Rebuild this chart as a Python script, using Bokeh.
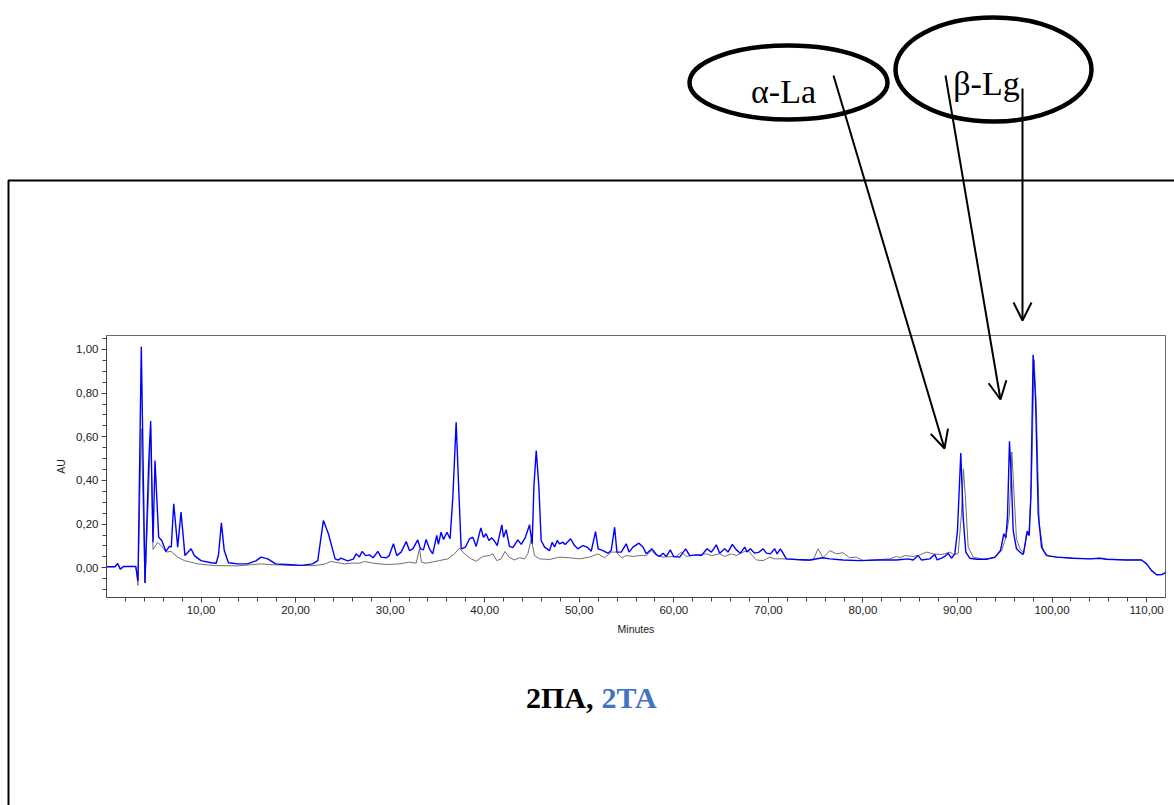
import numpy as np
from bokeh.plotting import figure
from bokeh.models import (Range1d, FixedTicker, CustomJSTickFormatter, LinearAxis, Label,
                          Arrow, OpenHead)
from bokeh.embed import file_html
from bokeh.resources import INLINE

# ---------------- data ----------------
time_2ta = [0.0, 0.9, 1.18, 1.46, 1.8, 3.1, 3.33, 3.68, 4.07, 4.46, 4.67, 4.92, 5.13, 5.52, 5.84,
            6.29, 6.65, 6.85, 7.11, 7.53, 7.88, 8.3, 8.94, 9.29, 9.99, 11.05, 11.6, 11.85, 12.15,
            12.45, 12.89, 13.88, 14.9, 15.8, 16.35, 17.05, 17.9, 19.5, 20.6, 21.8, 22.34, 22.94,
            23.47, 24.18, 24.5, 24.8, 25.5, 26.1, 26.4, 26.75, 27.03, 27.4, 27.8, 28.2, 28.7,
            29.04, 29.6, 29.9, 30.35, 30.7, 31.16, 31.7, 32.04, 32.4, 32.92, 33.2, 33.52, 33.8,
            34.16, 34.5, 34.93, 35.1, 35.39, 35.64, 36.0, 36.34, 36.63, 36.98, 37.26, 37.51,
            37.97, 38.39, 38.74, 39.1, 39.59, 39.87, 40.15, 40.44, 40.75, 41.04, 41.32, 41.81,
            41.99, 42.27, 42.62, 42.98, 43.5, 43.86, 44.28, 44.74, 45.02, 45.2, 45.45, 45.73,
            45.97, 46.33, 46.86, 47.14, 47.39, 47.67, 47.91, 48.27, 48.51, 49.08, 49.5, 49.85,
            50.38, 50.81, 51.27, 51.72, 52.0, 52.5, 53.03, 53.38, 53.74, 53.98, 54.44, 54.97,
            55.26, 55.68, 56.31, 56.74, 57.09, 57.69, 58.15, 58.5, 58.85, 59.21, 59.63, 59.98,
            60.62, 61.25, 61.68, 62.38, 62.91, 63.51, 63.97, 64.5, 64.85, 65.38, 65.73, 66.19,
            66.61, 67.04, 67.5, 67.74, 68.1, 68.55, 69.01, 69.44, 69.79, 70.21, 70.67, 70.92,
            71.27, 71.55, 71.9, 72.96, 74.37, 75.78, 76.49, 77.9, 79.67, 81.43, 83.54, 84.78,
            85.31, 85.84, 86.19, 87.07, 87.6, 87.85, 88.31, 88.66, 89.01, 89.36, 89.72, 90.0,
            90.35, 90.6, 90.88, 91.3, 92.01, 93.07, 93.95, 94.55, 94.9, 95.11, 95.29, 95.5,
            95.71, 95.89, 96.24, 96.6, 96.95, 97.16, 97.37, 97.58, 97.76, 98.0, 98.25, 98.54,
            98.89, 99.42, 100.5, 102.2, 104.0, 105.06, 105.77, 107.88, 109.47, 110.0, 110.53,
            111.06, 111.6, 112.0]
au_2ta = [0.005, 0.005, 0.02, -0.006, 0.006, 0.006, -0.06, 1.013, -0.07, 0.476, 0.672, 0.117, 0.491,
          0.14, 0.125, 0.075, 0.098, 0.095, 0.293, 0.095, 0.255, 0.056, 0.087, 0.056, 0.033, 0.023,
          0.021, 0.06, 0.206, 0.08, 0.023, 0.018, 0.018, 0.032, 0.049, 0.041, 0.018, 0.014, 0.011,
          0.018, 0.033, 0.217, 0.156, 0.041, 0.035, 0.044, 0.032, 0.04, 0.064, 0.05, 0.075, 0.056,
          0.059, 0.046, 0.075, 0.049, 0.046, 0.056, 0.11, 0.056, 0.072, 0.12, 0.079, 0.087, 0.128,
          0.087, 0.082, 0.13, 0.087, 0.064, 0.148, 0.107, 0.163, 0.13, 0.163, 0.133, 0.324, 0.667,
          0.354, 0.087, 0.095, 0.133, 0.14, 0.098, 0.183, 0.14, 0.156, 0.125, 0.137, 0.122, 0.102,
          0.197, 0.14, 0.174, 0.098, 0.092, 0.128, 0.107, 0.137, 0.197, 0.11, 0.37, 0.537, 0.37,
          0.125, 0.095, 0.079, 0.117, 0.095, 0.125, 0.11, 0.117, 0.107, 0.133, 0.102, 0.087, 0.102,
          0.095, 0.076, 0.166, 0.087, 0.079, 0.067, 0.079, 0.186, 0.072, 0.072, 0.11, 0.072, 0.095,
          0.113, 0.095, 0.064, 0.087, 0.061, 0.052, 0.067, 0.052, 0.082, 0.052, 0.049, 0.087, 0.056,
          0.059, 0.056, 0.087, 0.072, 0.105, 0.067, 0.087, 0.072, 0.107, 0.082, 0.067, 0.095, 0.072,
          0.087, 0.067, 0.072, 0.087, 0.067, 0.064, 0.087, 0.064, 0.087, 0.067, 0.041, 0.038, 0.036,
          0.046, 0.041, 0.036, 0.033, 0.036, 0.036, 0.041, 0.036, 0.056, 0.036, 0.041, 0.061, 0.036,
          0.044, 0.052, 0.067, 0.044, 0.064, 0.171, 0.526, 0.232, 0.072, 0.044, 0.039, 0.039, 0.049,
          0.079, 0.156, 0.137, 0.232, 0.58, 0.4, 0.171, 0.087, 0.072, 0.061, 0.11, 0.168, 0.148,
          0.324, 0.976, 0.781, 0.247, 0.095, 0.056, 0.049, 0.044, 0.041, 0.044, 0.039, 0.036, 0.036,
          0.018, -0.013, -0.032, -0.031, -0.022]

time_2pa = [0.0, 0.9, 1.18, 1.46, 1.8, 3.1, 3.33, 3.68, 4.07, 4.46, 4.67, 4.92, 5.41, 5.8, 6.29,
            6.82, 7.5, 8.23, 9.65, 11.4, 13.9, 16.35, 17.6, 19.5, 21.9, 23.0, 23.75, 25.2, 26.0,
            26.75, 27.3, 28.2, 29.6, 30.98, 32.04, 32.75, 33.1, 33.31, 33.8, 35.2, 36.1, 36.8,
            37.33, 37.86, 38.57, 39.1, 39.8, 40.5, 40.86, 41.28, 41.74, 42.16, 42.55, 43.15, 43.68,
            44.21, 44.56, 44.92, 45.27, 45.8, 46.86, 47.91, 48.97, 50.03, 51.09, 51.97, 52.68,
            53.38, 53.92, 54.44, 54.97, 55.68, 56.38, 57.09, 57.62, 58.15, 58.85, 60.26, 60.79,
            61.32, 62.38, 63.44, 63.97, 64.85, 65.38, 66.08, 66.61, 67.32, 67.85, 68.31, 68.73,
            69.44, 70.14, 70.67, 71.55, 72.96, 74.02, 74.73, 75.26, 75.78, 76.49, 77.2, 77.9,
            78.61, 79.31, 80.02, 81.43, 82.84, 83.54, 83.9, 84.43, 85.31, 86.01, 86.72, 87.42,
            88.13, 88.66, 89.19, 89.61, 90.07, 90.42, 90.63, 90.88, 91.13, 91.66, 92.71, 93.95,
            94.66, 95.11, 95.47, 95.75, 96.0, 96.24, 96.6, 97.02, 97.3, 97.55, 97.83, 98.11,
            98.36, 98.64, 99.06, 99.59, 100.5, 102.2, 104.0, 105.06, 105.77, 107.88, 109.47,
            110.0, 110.53, 111.06, 111.6, 112.0]
au_2pa = [0.005, 0.005, 0.02, -0.006, 0.006, 0.006, -0.081, 0.637, -0.07, 0.35, 0.644, 0.084, 0.117,
          0.1, 0.072, 0.075, 0.05, 0.033, 0.018, 0.01, 0.009, 0.018, 0.014, 0.011, 0.01, 0.016,
          0.029, 0.018, 0.022, 0.021, 0.029, 0.021, 0.015, 0.018, 0.026, 0.021, 0.087, 0.026,
          0.021, 0.033, 0.041, 0.064, 0.09, 0.064, 0.041, 0.03, 0.052, 0.056, 0.064, 0.033, 0.041,
          0.075, 0.049, 0.036, 0.046, 0.041, 0.064, 0.133, 0.056, 0.041, 0.038, 0.049, 0.046,
          0.041, 0.049, 0.064, 0.046, 0.072, 0.072, 0.046, 0.056, 0.052, 0.056, 0.056, 0.079,
          0.056, 0.049, 0.052, 0.072, 0.052, 0.059, 0.064, 0.056, 0.064, 0.052, 0.064, 0.056,
          0.072, 0.079, 0.056, 0.036, 0.033, 0.049, 0.041, 0.041, 0.038, 0.033, 0.036, 0.087,
          0.046, 0.079, 0.064, 0.069, 0.046, 0.049, 0.033, 0.036, 0.041, 0.052, 0.046, 0.056,
          0.052, 0.059, 0.072, 0.064, 0.061, 0.064, 0.072, 0.061, 0.064, 0.247, 0.453, 0.293,
          0.095, 0.049, 0.039, 0.046, 0.079, 0.137, 0.232, 0.53, 0.324, 0.133, 0.087, 0.067,
          0.156, 0.148, 0.4, 0.953, 0.705, 0.201, 0.079, 0.055, 0.049, 0.044, 0.041, 0.044,
          0.039, 0.036, 0.036, 0.018, -0.013, -0.032, -0.031, -0.022]

x_major_ticks = [10, 20, 30, 40, 50, 60, 70, 80, 90, 100, 110]
x_minor_ticks = list(range(2, 112, 2))
y_major_ticks = [0.0, 0.2, 0.4, 0.6, 0.8, 1.0]
y_minor_ticks = [round(-0.10 + 0.05 * i, 2) for i in range(24)]

caption_black = "2ПА,"
caption_blue = "2ТА"
peak_labels = ["α-La", "β-Lg"]

# ---------------- layout ----------------
W, H = 1174, 805
PL, PR, PT, PB = 106, 1165, 335, 597        # chromatogram box on the page (px)
T0, T1 = 0.0, 112.0                          # minutes shown
A0, A1 = -0.136, 1.064                       # AU shown

# page figure: frame covers the whole page, default ranges are page pixels (y downward)
p = figure(width=W, height=H, output_backend="svg", toolbar_location=None,
           x_range=Range1d(0, W), y_range=Range1d(H, 0),
           x_axis_location=None, y_axis_location=None,
           min_border=0, min_border_left=0, min_border_right=0,
           min_border_top=0, min_border_bottom=0,
           background_fill_color="white", border_fill_color="white")
p.grid.visible = False
p.outline_line_color = None

# extra ranges so that [T0,T1]x[A0,A1] lands on the chromatogram box
kx = (T1 - T0) / (PR - PL)
ky = (A1 - A0) / (PB - PT)
p.extra_x_ranges = {"t": Range1d(T0 - PL * kx, T1 + (W - PR) * kx)}
p.extra_y_ranges = {"au": Range1d(A0 - (H - PB) * ky, A1 + PT * ky)}

# chromatogram box (top/right border)
p.quad(left=[T0], right=[T1], bottom=[A0], top=[A1], fill_alpha=0,
       line_color="#6a6a6a", line_width=1, x_range_name="t", y_range_name="au")

p.line(time_2pa, au_2pa, line_color="#6f6f6f", line_width=1,
       x_range_name="t", y_range_name="au")
p.line(time_2ta, au_2ta, line_color="#0000ff", line_width=1.4,
       x_range_name="t", y_range_name="au")

fmt = CustomJSTickFormatter(code="return tick.toFixed(2).replace('.', ',');")
xaxis = LinearAxis(x_range_name="t", y_range_name="au", fixed_location=A0, bounds=(T0, T1),
                   ticker=FixedTicker(ticks=x_major_ticks, minor_ticks=x_minor_ticks),
                   formatter=fmt, axis_label="Minutes")
yaxis = LinearAxis(x_range_name="t", y_range_name="au", fixed_location=T0, bounds=(A0, A1),
                   ticker=FixedTicker(ticks=y_major_ticks, minor_ticks=y_minor_ticks),
                   formatter=fmt, axis_label="AU")
for ax in (xaxis, yaxis):
    ax.axis_line_color = "#444444"
    ax.major_tick_line_color = "#444444"
    ax.minor_tick_line_color = "#444444"
    ax.major_tick_in = 0
    ax.major_tick_out = 5
    ax.minor_tick_in = 0
    ax.minor_tick_out = 4
    ax.major_label_text_font = "Liberation Sans"
    ax.major_label_text_font_size = "11.5px"
    ax.major_label_text_color = "#222222"
    ax.major_label_standoff = 3
    ax.axis_label_text_font = "Liberation Sans"
    ax.axis_label_text_font_size = "10.5px"
    ax.axis_label_text_font_style = "normal"
    ax.axis_label_text_color = "#222222"
    ax.axis_label_standoff = 6
p.add_layout(xaxis, "below")
p.add_layout(yaxis, "left")

# outer box (left and top edges visible)
p.line([8, 8, W + 10], [H + 10, 180, 180], line_color="black", line_width=2)

# ellipses around the peak names
p.ellipse(x=[788, 993], y=[82, 69], width=[198, 196], height=[74, 104],
          fill_alpha=0, line_color="black", line_width=4.5)

# arrows pointing at the peaks
for x0, y0, x1, y1 in [(833, 75, 944, 448), (945, 75, 1000, 399), (1022, 88, 1022, 320)]:
    p.add_layout(Arrow(x_start=x0, y_start=y0, x_end=x1, y_end=y1, line_width=2,
                       line_color="black",
                       end=OpenHead(size=18, line_width=2, line_color="black")))

# peak names
for txt, x, y in [(peak_labels[0], 783, 91), (peak_labels[1], 986, 83)]:
    p.add_layout(Label(x=x, y=y, text=txt, text_font="Liberation Serif",
                       text_font_size="34px", text_align="center",
                       text_baseline="alphabetic", text_color="black"))

# caption
p.add_layout(Label(x=593, y=697, text=caption_black, text_font="Liberation Serif",
                   text_font_size="30px", text_font_style="bold", text_align="right",
                   text_baseline="alphabetic", text_color="black"))
p.add_layout(Label(x=601, y=697, text=caption_blue, text_font="Liberation Serif",
                   text_font_size="30px", text_font_style="bold", text_align="left",
                   text_baseline="alphabetic", text_color="#4472c4"))

open("out.html", "w").write(file_html(p, INLINE))
